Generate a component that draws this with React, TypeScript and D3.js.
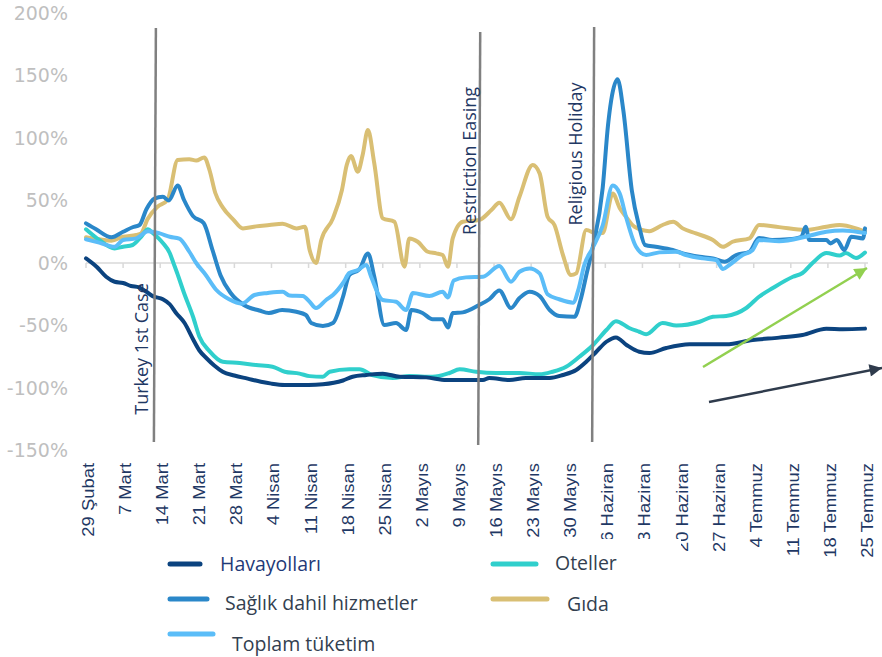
import React from 'react';
import * as d3 from 'd3';

// ---------- data ----------
const xLabels = [
  '29 Şubat', '7 Mart', '14 Mart', '21 Mart', '28 Mart', '4 Nisan', '11 Nisan',
  '18 Nisan', '25 Nisan', '2 Mayıs', '9 Mayıs', '16 Mayıs', '23 Mayıs', '30 Mayıs',
  '6 Haziran', '13 Haziran', '20 Haziran', '27 Haziran', '4 Temmuz', '11 Temmuz',
  '18 Temmuz', '25 Temmuz',
];
const yTicks = [-150, -100, -50, 0, 50, 100, 150, 200];

// [day since 29 Şubat, % change]
const havayollari: [number, number][] = [
  [0, 3.7], [2, -3], [3.8, -11], [5.4, -15], [7, -16], [8.5, -18.4], [10, -19.5], [11.4, -23],
  [12.6, -26.5], [14.5, -29], [15.8, -33], [17, -40], [18.6, -48], [20.2, -61], [21.4, -70],
  [22.7, -76], [24.2, -82], [25.8, -87], [28, -90], [30.5, -92.5], [33, -95], [35, -96.5],
  [37.5, -97.5], [42, -97.5], [44.7, -97], [48.5, -94], [50.3, -91], [52.9, -89.6], [56, -88.5],
  [59.2, -91], [64.2, -91.5], [68, -93.6], [72.4, -93.6], [74.9, -93.6], [76.1, -92], [79.9, -93.6],
  [83, -92], [87.5, -92], [90, -89.6], [92.5, -85.6], [94.4, -79], [96.3, -71], [98.2, -63],
  [100, -59.5], [102, -65.6], [104.4, -71], [106.3, -72], [109.5, -68], [113.9, -65], [120.8, -65],
  [125.8, -61.6], [130.8, -59.7], [135.2, -57.6], [139.7, -52.5], [142.8, -53], [147, -52.5],
];
const oteller: [number, number][] = [
  [0, 27], [2.5, 18.4], [5.4, 11.7], [7, 13], [8.8, 14.4], [10.4, 21], [11.7, 27], [12.6, 24],
  [14.5, 16], [15.8, 8], [16.5, 0], [17.2, -8], [18.5, -24], [20.2, -43], [21.4, -59], [23.3, -70.5],
  [25.8, -79], [29, -80], [32.1, -81.6], [35.2, -83], [37.5, -87], [40.3, -88.5], [42.2, -90.5],
  [44.7, -91], [46, -87], [49.7, -85], [51.6, -85], [54, -89.6], [57.9, -92], [61, -90.4],
  [65.4, -91], [68.6, -88], [70.5, -85], [73.6, -87], [77.4, -88], [81.8, -88], [85.6, -89],
  [88, -87], [90.6, -83], [93.1, -75], [95.6, -66], [98.2, -53.6], [100, -46.5], [102.5, -52],
  [104.4, -55], [105.7, -57], [108.8, -48], [111.4, -50], [115.8, -47], [118.3, -43], [120.8, -42.4],
  [124.6, -36], [127, -27], [129.6, -20], [133.4, -11], [135.2, -8], [137.1, 0], [139.7, 8],
  [142.2, 6], [143.4, 8], [145.3, 4], [147, 8.4],
];
const saglik: [number, number][] = [
  [0, 31.7], [1.9, 27], [4.8, 20.6], [7, 25], [8.8, 28.6], [10.1, 30.4], [11.4, 43], [12.9, 51.5],
  [14.5, 53], [15.6, 50], [17.3, 62], [18.5, 50.4], [20.2, 37.5], [22.2, 32], [23.9, 10], [25.4, -10],
  [27.3, -24], [29.8, -33.6], [32.7, -38], [34.5, -40], [37, -37.6], [39.7, -39], [41.5, -41.6],
  [42.5, -48], [44.7, -50.4], [46.6, -48], [48.5, -27], [49.7, -9.6], [51.6, -5], [53.2, 7.7],
  [54.4, -11], [56.3, -49.6], [58.5, -48], [60.4, -53.6], [61.4, -37.6], [63.5, -40], [65.4, -45],
  [67.3, -45], [68.3, -51.5], [69.2, -40], [71.1, -39.5], [74.2, -33.6], [76.1, -29], [78, -22],
  [80.2, -36], [81.8, -28], [83.7, -23], [85.6, -26.4], [87.5, -37.6], [89.3, -42.4], [92.2, -43],
  [93.3, -30], [94.5, -8], [95.6, 12], [97.5, 60], [98.5, 110], [99.1, 130], [100.3, 147],
  [101.4, 122], [103, 58], [104.4, 29], [105.5, 14.4], [107.5, 13], [110.7, 10.4], [112.6, 7.7],
  [115.8, 5], [118.3, 3.7], [120.5, 1], [122.7, 6.4], [125.2, 9], [127, 20], [129.5, 18.4],
  [132.5, 19], [135, 21], [135.8, 29], [136.5, 18.4], [139.7, 18.4], [140.5, 15.7], [141.7, 18.4],
  [143.1, 10.4], [144.4, 21], [146.6, 19.7], [147, 27.7],
];
const toplam: [number, number][] = [
  [0, 19], [2.5, 16.3], [5.4, 13], [7, 18.4], [9.5, 19.7], [11.7, 25.5], [13.9, 23.7], [15.8, 21],
  [17.6, 19.5], [19.5, 9], [20.8, 0], [22.5, -9], [24.6, -21.6], [27, -29], [29.4, -32.5],
  [31.8, -25.6], [34.3, -24], [37.1, -23], [38.4, -26], [40.9, -26.4], [42.2, -31], [43.4, -36],
  [45.3, -29.6], [46.6, -25.6], [48.5, -16], [49.7, -8], [51.3, -5.6], [52.9, -1.6], [53.8, -11],
  [56, -29.6], [58.5, -31], [60.4, -37.6], [61.7, -24], [64.8, -26.4], [67.3, -23], [68.3, -27.5],
  [69.4, -14], [71.7, -11.5], [74.9, -11], [78, -2.4], [80.2, -15], [81.8, -7], [83.7, -4.3],
  [85.6, -8.3], [87.1, -25], [89.3, -29], [91.9, -31.7], [93, -20], [94, -2], [95.6, 12],
  [97.5, 30], [99.4, 62], [100.7, 55.7], [101.9, 37], [103.8, 13], [105.7, 6.4], [108.2, 8.5],
  [111.4, 9], [113.2, 6.4], [116.4, 3.7], [118.9, 2.4], [120.2, -4.8], [121.4, -1.6], [123.9, 6.4],
  [125.8, 10.4], [127, 18.4], [130.8, 17.5], [135.8, 21], [139.7, 25], [142.8, 26], [147, 24],
];
const gida: [number, number][] = [
  [0, 20.6], [2.5, 19], [4.8, 17.9], [7, 21], [9.5, 22.4], [10.4, 23.7], [11.6, 35], [13.5, 45],
  [15.4, 50.5], [17.3, 82.4], [19.5, 83], [20.8, 82], [22.3, 84.5], [23.3, 74.4], [24.4, 56],
  [25.8, 44.5], [27.8, 34.7], [29.6, 27.7], [32.1, 29.3], [34.6, 30.4], [37.1, 31.5], [39.7, 27.7],
  [41.3, 29], [42.2, 10.4], [43.4, 0], [44.4, 18.4], [46.6, 35.7], [48.3, 58.4], [49.2, 78.4],
  [50, 85.6], [51.3, 73], [52.2, 86.4], [53.2, 106.4], [54.4, 79.7], [56, 35.7], [58.2, 33],
  [60.1, -3], [61, 19.7], [62.6, 17], [64.5, 9], [66.1, 7.7], [67.3, 6.4], [68.3, -3], [69.2, 19.7],
  [71.1, 33], [74.2, 34.4], [76.5, 42.4], [78, 48.3], [80.2, 35], [81.8, 53], [84.3, 78.4],
  [85.6, 71.7], [87.1, 37], [88.4, 30.4], [90, 6.4], [91.5, -9.6], [92.5, -8.3], [94.4, 26.4],
  [96.3, 23.7], [97.5, 24], [99.4, 55.7], [100.7, 44], [101.9, 37], [103.5, 29], [106.3, 25.5],
  [108.8, 30.4], [110.8, 33], [112.6, 27.7], [115.1, 23.7], [118.3, 18.4], [120.2, 13], [122, 17],
  [125.2, 19.7], [127, 30.4], [130.8, 28.7], [135.8, 26.4], [139.7, 29], [142.2, 30.4],
  [145.3, 27.7], [147, 25],
];

const seriesNames = ['Havayolları', 'Sağlık dahil hizmetler', 'Toplam tüketim', 'Oteller', 'Gıda'];
const eventDays = [13, 74.2, 95.7];
const eventLabels = ['Turkey 1st Case', 'Restriction Easing', 'Religious Holiday'];

// ---------- styles / layout ----------
const W = 882;
const H = 657;
const colors: Record<string, string> = {
  'Havayolları': '#0b437f',
  'Sağlık dahil hizmetler': '#2a87c9',
  'Toplam tüketim': '#5bbdf8',
  'Oteller': '#30cfcc',
  'Gıda': '#d9bf74',
};
const dataByName: Record<string, [number, number][]> = {
  'Havayolları': havayollari,
  'Sağlık dahil hizmetler': saglik,
  'Toplam tüketim': toplam,
  'Oteller': oteller,
  'Gıda': gida,
};
const drawOrder = ['Gıda', 'Oteller', 'Havayolları', 'Sağlık dahil hizmetler', 'Toplam tüketim'];

const legendLayout = [
  { name: seriesNames[0], x1: 170, x2: 200, y: 564, tx: 220, ty: 564, fill: '#1f3a78' },
  { name: seriesNames[1], x1: 170, x2: 207, y: 599, tx: 225, ty: 603, fill: '#333f50' },
  { name: seriesNames[2], x1: 170, x2: 213, y: 634, tx: 232, ty: 644, fill: '#333f50' },
  { name: seriesNames[3], x1: 493, x2: 536, y: 564, tx: 555, ty: 563, fill: '#333f50' },
  { name: seriesNames[4], x1: 493, x2: 547, y: 599, tx: 567, ty: 604, fill: '#333f50' },
];
// legend box (white, drawn above the axis labels it overlaps)
const legendBox = { x: 80, y: 539, w: 601, h: 118 };
const eventLayout = [
  { top: 28, bottom: 442, tilt: 1, lx: 148, ly: 349 },
  { top: 32, bottom: 445, tilt: 1, lx: 476, ly: 161 },
  { top: 27, bottom: 442, tilt: 1, lx: 582, ly: 154 },
];

export default function App() {
  const x = d3.scaleLinear().domain([0, 147]).range([86, 865]);
  const y = d3.scaleLinear().domain([-150, 200]).range([450.5, 13]);
  const line = d3
    .line<[number, number]>()
    .x((d) => x(d[0]))
    .y((d) => y(d[1]))
    .curve(d3.curveMonotoneX);
  const tickDays = xLabels.map((_, i) => i * 7);

  return (
    <svg
      width={W}
      height={H}
      viewBox={`0 0 ${W} ${H}`}
      style={{ position: 'absolute', left: 0, top: 0, background: '#fff' }}
    >
      <defs>
        <marker id="arrG" viewBox="0 0 10 10" refX="10" refY="5" markerWidth="6" markerHeight="5" orient="auto" markerUnits="strokeWidth">
          <path d="M0,0 L10,5 L0,10 z" fill="#92d050" />
        </marker>
        <marker id="arrD" viewBox="0 0 10 10" refX="10" refY="5" markerWidth="6" markerHeight="5" orient="auto" markerUnits="strokeWidth">
          <path d="M0,0 L10,5 L0,10 z" fill="#2f3b4c" />
        </marker>
      </defs>
      <rect x={0} y={0} width={W} height={H} fill="#fff" />

      {/* y tick labels */}
      {yTicks.map((t) => (
        <text
          key={t}
          x={68}
          y={y(t)}
          dy="0.36em"
          textAnchor="end"
          fontFamily="DejaVu Sans"
          fontSize={19}
          fill="#bfbfbf"
        >
          {`${t}%`}
        </text>
      ))}

      {/* zero axis line with ticks */}
      <line x1={x(0)} x2={x(147) + 3} y1={y(0)} y2={y(0)} stroke="#d9d9d9" strokeWidth={1.5} />
      {tickDays.map((d) => (
        <line key={d} x1={x(d)} x2={x(d)} y1={y(0)} y2={y(0) + 5} stroke="#d9d9d9" strokeWidth={1.5} />
      ))}

      {/* x labels */}
      {xLabels.map((lab, i) => (
        <text
          key={lab}
          transform={`translate(${x(tickDays[i]) + 8},463) rotate(-90) scale(1.15,1)`}
          textAnchor="end"
          fontFamily="Liberation Sans, Arial"
          fontSize={16}
          fill="#1f3864"
        >
          {lab}
        </text>
      ))}

      {/* series */}
      {drawOrder.map((name) => (
        <path
          key={name}
          d={line(dataByName[name]) || ''}
          fill="none"
          stroke={colors[name]}
          strokeWidth={4}
          strokeLinejoin="round"
          strokeLinecap="round"
        />
      ))}

      {/* event lines */}
      {eventDays.map((d, i) => {
        const L = eventLayout[i];
        const cx = x(d);
        return (
          <g key={eventLabels[i]}>
            <line
              x1={cx + L.tilt}
              x2={cx - L.tilt}
              y1={L.top}
              y2={L.bottom}
              stroke="#808080"
              strokeWidth={2.5}
            />
            <text
              transform={`translate(${L.lx},${L.ly}) rotate(-90)`}
              textAnchor="middle"
              fontFamily="Open Sans"
              fontSize={18}
              fill="#1f3864"
            >
              {eventLabels[i]}
            </text>
          </g>
        );
      })}

      {/* trend arrows */}
      <line x1={703} y1={367} x2={867} y2={268} stroke="#92d050" strokeWidth={2.5} markerEnd="url(#arrG)" />
      <line x1={709} y1={402} x2={882} y2={368} stroke="#2f3b4c" strokeWidth={2.5} markerEnd="url(#arrD)" />

      {/* legend */}
      <rect x={legendBox.x} y={legendBox.y} width={legendBox.w} height={legendBox.h} fill="#fff" />
      {legendLayout.map((l) => (
        <g key={l.name}>
          <line x1={l.x1} x2={l.x2} y1={l.y} y2={l.y} stroke={colors[l.name]} strokeWidth={5} strokeLinecap="round" />
          <text x={l.tx} y={l.ty} dy="0.35em" fontFamily="Open Sans" fontSize={19.5} fill={l.fill}>
            {l.name}
          </text>
        </g>
      ))}
    </svg>
  );
}
